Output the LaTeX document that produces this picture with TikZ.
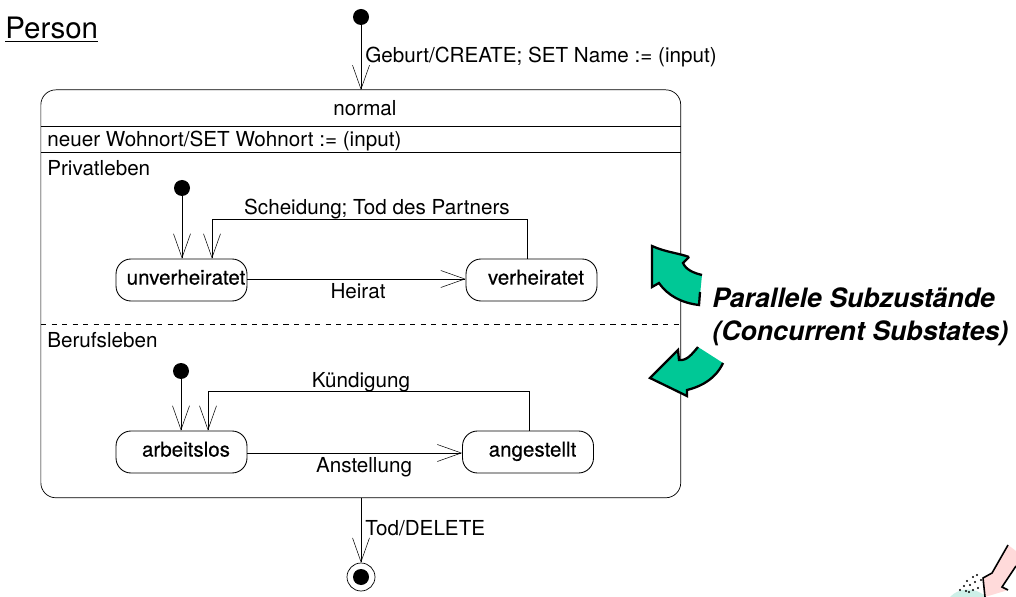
\documentclass[tikz,border=0pt]{standalone}
\usepackage{fontspec}
\setmainfont{TeX Gyre Heros}
\usetikzlibrary{arrows.meta}
\definecolor{subgreen}{RGB}{0,200,150}
\definecolor{cornerpink}{RGB}{255,218,218}
\definecolor{cornercyan}{RGB}{205,240,232}
\tikzset{
  trans/.style={-{Straight Barb[length=0.48cm,width=0.34cm,line width=0.3pt]},line width=0.5pt},
  statebox/.style={draw,line width=0.5pt,rounded corners=0.3cm,minimum width=2.62cm,minimum height=0.84cm,inner sep=0pt,text height=0.52em,text depth=0pt,execute at begin node={\hspace*{0.18cm}},font=\fontsize{11.7}{13}\selectfont\addfontfeature{FakeBold=0.4}},
  startdot/.style={circle,fill=black,minimum size=0.32cm,inner sep=0pt},
  lbl/.style={inner sep=0pt,text height=0.72em,text depth=0.2em,font=\fontsize{11.75}{13}\selectfont},
  notelbl/.style={lbl,anchor=west,font=\fontsize{15.2}{17}\selectfont\bfseries\itshape}
}
\begin{document}
\begin{tikzpicture}[x=0.02cm,y=-0.02cm]
  \useasboundingbox (0,0) rectangle (1016,597);
  \node[draw,line width=0.4pt,rounded corners=0.3cm,anchor=north west,minimum width=12.8cm,minimum height=8.16cm,inner sep=0pt] (mainstate) at (40.5,89.5) {};
  \draw[line width=0.5pt] (41,126) -- (681,126);
  \draw[line width=0.5pt] (41,152) -- (681,152);
  \draw[dashed,line width=0.4pt] (41,324) -- (681,324);

  \node[startdot] (start) at (361,17) {};
  \node[startdot] (startPrivat) at (182,188) {};
  \node[startdot] (startBeruf) at (181,371) {};
  \node[circle,draw,line width=0.4pt,minimum size=0.56cm,inner sep=0pt] (stop) at (361,577) {};
  \node[startdot] (stopdot) at (361,577) {};

  \node[statebox] (unverh) at (181.5,280) {unverheiratet};
  \node[statebox] (verh) at (531.5,280) {verheiratet};
  \node[statebox] (arblos) at (181.5,452) {arbeitslos};
  \node[statebox] (angest) at (528,452) {angestellt};

  \coordinate (mainTop) at (361,90);
  \coordinate (mainBot) at (361,498);
  \draw[trans] (start) -- (mainTop);
  \draw[line width=0.5pt] (mainBot) -- (361,530);
  \draw[trans] (361,530) -- (stop.north);
  \draw[trans] (startPrivat) -- (startPrivat |- unverh.north);
  \draw[trans] (startBeruf) -- (startBeruf |- arblos.north);
  \draw[trans] ([yshift=0.02cm]unverh.east) -- ([yshift=0.02cm]verh.west);
  \draw[trans] ([yshift=-0.02cm]arblos.east) -- ([yshift=-0.02cm]angest.west);
  \draw[trans] ([xshift=-0.09cm]verh.north) -- ++(0,-39) -| ([xshift=0.61cm]unverh.north);
  \draw[trans] ([xshift=0.02cm]angest.north) -- ++(0,-39) -| ([xshift=0.53cm]arblos.north);

  \node[lbl,anchor=west,font=\fontsize{16.8}{18}\selectfont] (person) at (5,34) {\underline{Person}};
  \node[lbl,anchor=west] (lblGeburt) at (365,58) {Geburt/CREATE; SET Name := (input)};
  \node[lbl] (lblNormal) at (365,111) {normal};
  \node[lbl,anchor=west] (lblWohnort) at (47,142) {neuer Wohnort/SET Wohnort := (input)};
  \node[lbl,anchor=west] (lblPrivat) at (47,171) {Privatleben};
  \node[lbl] (lblScheidung) at (377,210) {Scheidung; Tod des Partners};
  \node[lbl] (lblHeirat) at (358,294) {Heirat};
  \node[lbl,anchor=west] (lblBeruf) at (47,343) {Berufsleben};
  \node[lbl] (lblKuend) at (361,383) {Kündigung};
  \node[lbl] (lblAnst) at (364,468) {Anstellung};
  \node[lbl,anchor=west] (lblTod) at (365,531) {Tod/DELETE};
  \node[notelbl] (note1) at (712,303) {Parallele Subzustände};
  \node[notelbl] (note2) at (712,336) {(Concurrent Substates)};

  % green arrows
  \fill[subgreen] (652,246) .. controls (665,252) and (678,253) .. (689,257) -- (683,263)
    .. controls (686,270) and (694,273) .. (702,275) -- (699,305)
    .. controls (682,303) and (668,296) .. (659,283) -- (652,287) -- cycle;
  \draw[line width=1.3pt] (689,257) .. controls (678,253) and (665,252) .. (652,246) -- (652,287) -- (659,283)
    .. controls (668,296) and (682,303) .. (699,305) -- (700,292);
  \draw[line width=1.3pt] (689,257) -- (683,263) .. controls (686,270) and (694,273) .. (702,275);
  \fill[subgreen] (678,350) -- (679,360) .. controls (687,361) and (692,354) .. (698,347) -- (723,363)
    .. controls (716,378) and (703,386) .. (687,390) -- (687,396) -- (650,378) -- cycle;
  \draw[line width=1.3pt] (698,347) .. controls (692,354) and (687,361) .. (679,360) -- (678,350) -- (650,378) -- (687,396) -- (687,390)
    .. controls (703,386) and (716,378) .. (723,363);

  % corner picture
  \fill[cornercyan] (950,597) .. controls (958,588) and (975,586) .. (986,597) -- cycle;
  \fill[cornerpink] (1016,551) -- (1008,545) -- (992,573) -- (983,578) -- (985,597) -- (1008,590) -- (1002,587) -- (1016,566) -- cycle;
  \draw[line width=0.9pt] (1008,545) -- (992,573) -- (983,578) -- (985,597);
  \draw[line width=0.9pt] (1008,590) -- (1002,587) -- (1016,566);
  \foreach \point in {(960,590),(964,586),(967,581),(970,585),(973,577),(975,582),(977,575),(978,588),(973,590),(969,592),(981,580),(966,591)} {
    \fill[black] \point circle[radius=0.6pt];
  }
\end{tikzpicture}
\end{document}
